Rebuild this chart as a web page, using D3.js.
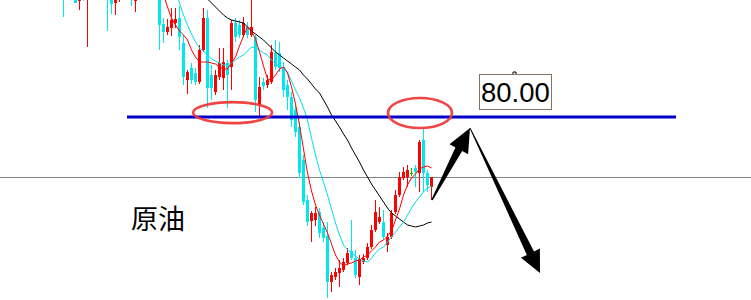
<!DOCTYPE html>
<html lang="zh">
<head>
<meta charset="UTF-8">
<title>原油</title>
<script src="https://d3js.org/d3.v7.min.js"></script>
<style>
  body { margin: 0; padding: 0; background: #fff; }
  svg { display: block; }
  .price-label { font-family: "Liberation Sans", Arial, sans-serif; font-size: 27.5px; fill: #000; }
  .name-label { font-family: "Noto Sans CJK SC", sans-serif; font-size: 27px; fill: #000; }
</style>
</head>
<body>
<svg width="751" height="300"></svg>
<script>
// candle data, one entry per bar (index 0 = leftmost)
const opens = [87.35, 86.35, 86.85, 86.85, 85.80, 86.45, 86.05, 86.75, 87.35, 86.65,
  87.25, 86.55, 86.15, 85.70, 86.25, 86.85, 86.35, 86.95, 85.80, 86.45,
  87.25, 87.85, 87.10, 86.75, 86.35, 84.65, 84.25, 84.45, 84.70, 84.95,
  83.70, 81.85, 82.45, 82.20, 81.75, 83.35, 84.95, 82.10, 81.25, 82.00,
  81.95, 82.70, 82.50, 84.70, 84.60, 84.10, 84.50, 84.10, 84.00, 80.60,
  81.75, 81.60, 81.75, 83.20, 83.20, 82.50, 81.60, 81.00, 80.35, 79.50,
  77.85, 75.85, 74.80, 74.85, 75.25, 74.45, 74.05, 71.75, 72.00, 72.20,
  72.35, 72.70, 73.30, 72.95, 72.00, 72.75, 72.95, 73.50, 74.35, 74.75,
  74.75, 73.60, 74.00, 75.25, 76.10, 76.95, 77.00, 77.20, 77.45, 77.20,
  78.85, 77.20, 76.50];
const highs = [87.85, 87.25, 87.75, 87.10, 86.60, 86.75, 87.15, 87.65, 87.85, 87.55,
  87.50, 86.85, 86.45, 86.55, 87.15, 87.25, 87.35, 87.25, 86.75, 87.60,
  88.25, 88.15, 87.35, 86.95, 86.60, 84.95, 84.90, 85.45, 85.45, 85.55,
  84.10, 82.35, 82.70, 82.45, 83.60, 85.45, 85.35, 82.60, 82.35, 83.45,
  83.45, 82.85, 84.85, 84.95, 84.85, 85.00, 84.75, 86.10, 84.10, 82.00,
  81.95, 82.10, 83.60, 83.85, 83.75, 82.75, 81.85, 81.25, 80.60, 79.75,
  78.10, 76.10, 75.30, 75.50, 75.45, 74.75, 74.75, 72.25, 72.45, 72.85,
  72.95, 73.45, 74.85, 73.35, 73.10, 73.15, 73.70, 74.60, 75.85, 75.50,
  75.35, 74.20, 75.35, 76.35, 77.25, 77.50, 77.60, 77.45, 77.60, 78.85,
  79.45, 77.35, 76.95];
const lows = [85.00, 86.10, 86.65, 85.70, 85.35, 85.80, 83.50, 86.35, 86.25, 86.15,
  86.10, 84.30, 85.15, 85.10, 85.75, 86.05, 86.00, 85.55, 85.25, 86.25,
  86.95, 86.85, 86.25, 85.95, 83.35, 83.70, 84.10, 84.05, 84.45, 83.35,
  81.60, 81.15, 81.65, 81.60, 81.65, 83.25, 80.45, 80.85, 81.10, 81.85,
  81.35, 80.45, 81.35, 83.75, 83.95, 84.00, 83.95, 84.00, 80.25, 80.00,
  81.35, 81.45, 81.65, 82.35, 82.25, 81.00, 80.35, 79.50, 79.00, 76.95,
  75.60, 74.55, 73.75, 74.55, 73.95, 73.75, 70.95, 71.25, 71.85, 71.50,
  72.25, 72.60, 72.85, 71.95, 71.60, 72.65, 72.85, 73.40, 74.25, 74.65,
  73.85, 73.25, 73.90, 75.15, 76.00, 76.85, 76.50, 77.05, 76.50, 76.25,
  76.25, 76.25, 75.85];
const closes = [86.45, 86.95, 87.45, 85.70, 86.35, 86.10, 86.85, 87.35, 86.60, 87.25,
  86.45, 86.05, 85.65, 86.25, 86.85, 86.35, 86.95, 86.25, 86.45, 87.25,
  87.85, 87.10, 86.75, 86.25, 84.60, 84.25, 84.50, 84.85, 84.90, 84.00,
  82.00, 82.25, 81.85, 81.75, 83.35, 84.95, 81.45, 81.45, 82.10, 82.70,
  82.75, 82.10, 84.70, 84.00, 84.10, 84.70, 84.10, 84.50, 80.85, 81.50,
  81.55, 81.85, 83.25, 82.50, 82.45, 81.35, 81.00, 79.85, 79.25, 77.20,
  75.75, 74.75, 75.20, 75.20, 74.20, 73.95, 71.75, 72.10, 72.25, 72.45,
  72.75, 73.20, 72.95, 72.10, 72.90, 72.95, 73.50, 74.35, 75.25, 75.00,
  74.00, 74.00, 75.20, 76.10, 77.00, 77.25, 77.35, 77.20, 77.25, 78.75,
  77.20, 76.60, 77.00];

// moving averages as shown on the chart, each starting at a given bar index
const maFastStart = 24;
const maFast = [86.85, 86.15, 85.50, 84.95, 84.60, 84.30, 84.10, 83.85, 83.35, 83.00,
  82.75, 82.75, 82.75, 82.70, 82.65, 82.50, 82.40, 82.40, 82.70, 83.00,
  83.55, 84.05, 84.50, 84.30, 83.90, 83.25, 82.55, 81.90, 81.85, 82.10,
  82.40, 82.50, 82.20, 81.50, 80.65, 79.60, 78.40, 77.20, 76.30, 75.60,
  75.10, 74.65, 74.20, 73.65, 73.10, 72.75, 72.55, 72.65, 72.70, 72.80,
  72.85, 73.00, 73.10, 73.30, 73.50, 73.75, 73.85, 74.05, 74.30, 74.85,
  75.40, 76.10, 76.60, 76.95, 77.15, 77.40, 77.50, 77.55, 77.45];
const maMidStart = 27;
const maMid = [87.10, 86.35, 85.70, 85.10, 84.60, 84.15, 83.75, 83.45, 83.30, 83.10,
  82.90, 82.80, 82.70, 82.60, 82.60, 82.70, 82.85, 83.00, 83.10, 83.30,
  83.50, 83.45, 83.35, 83.20, 83.10, 82.85, 82.65, 82.55, 82.45, 82.25,
  81.80, 81.35, 80.95, 80.45, 79.85, 78.95, 78.10, 77.35, 76.75, 76.10,
  75.40, 74.70, 74.10, 73.60, 73.35, 73.20, 73.05, 72.90, 72.80, 72.75,
  72.95, 73.20, 73.40, 73.50, 73.75, 74.00, 74.25, 74.50, 74.75, 75.10,
  75.45, 75.75, 76.00, 76.25, 76.45, 76.55];
const maSlowStart = 35;
const maSlow = [86.15, 85.90, 85.70, 85.50, 85.30, 85.10, 84.95, 84.85, 84.80, 84.75,
  84.70, 84.50, 84.30, 84.15, 84.00, 83.85, 83.65, 83.45, 83.25, 83.10,
  82.95, 82.80, 82.65, 82.50, 82.35, 82.10, 81.90, 81.65, 81.40, 81.20,
  80.85, 80.50, 80.10, 79.80, 79.50, 79.15, 78.85, 78.45, 78.10, 77.75,
  77.35, 77.00, 76.65, 76.35, 76.05, 75.75, 75.45, 75.20, 75.05, 74.90,
  74.75, 74.60, 74.55, 74.50, 74.55, 74.60, 74.70, 74.75];

// horizontal levels
const resistanceLevel = 80.00;
const referenceLevel = 77.00;

const svg = d3.select("svg");
const width = +svg.attr("width");
const height = +svg.attr("height");

const x = d3.scaleLinear().domain([-15.75, 172]).range([0, width]);
const y = d3.scaleLinear().domain([85.85, 70.85]).range([0, height]);

const candles = opens.map(function(o, i) {
    return { i: i, open: o, high: highs[i], low: lows[i], close: closes[i] };
});

function candleColor(d) {
    if (d.close > d.open) return "#ff0000";
    if (d.close < d.open) return "#00e8ee";
    return "#00c800";
}

// thin grey level line
svg.append("line")
    .attr("x1", 0)
    .attr("x2", width)
    .attr("y1", y(referenceLevel) + 0.5)
    .attr("y2", y(referenceLevel) + 0.5)
    .attr("stroke", "#7f868c")
    .attr("stroke-width", 1);

const g = svg.append("g").attr("shape-rendering", "crispEdges");

g.selectAll(".wick")
    .data(candles)
    .enter()
    .append("rect")
    .attr("class", "wick")
    .attr("x", function(d) { return x(d.i); })
    .attr("y", function(d) { return y(d.high); })
    .attr("width", 1)
    .attr("height", function(d) { return Math.max(1, y(d.low) - y(d.high)); })
    .attr("fill", candleColor);

g.selectAll(".body")
    .data(candles)
    .enter()
    .append("rect")
    .attr("class", "body")
    .attr("x", function(d) { return x(d.i) - 1; })
    .attr("y", function(d) { return y(Math.max(d.open, d.close)); })
    .attr("width", 3)
    .attr("height", function(d) { return Math.max(1, Math.abs(y(d.open) - y(d.close))); })
    .attr("fill", candleColor);

function maLine(start) {
    return d3.line()
        .x(function(d, k) { return x(start + k) + 0.5; })
        .y(function(d) { return y(d); });
}

svg.append("path")
    .attr("d", maLine(maSlowStart)(maSlow))
    .attr("fill", "none")
    .attr("stroke", "#000")
    .attr("stroke-width", 1);

svg.append("path")
    .attr("d", maLine(maMidStart)(maMid))
    .attr("fill", "none")
    .attr("stroke", "#00e0e8")
    .attr("stroke-width", 1);

svg.append("path")
    .attr("d", maLine(maFastStart)(maFast))
    .attr("fill", "none")
    .attr("stroke", "#ff0000")
    .attr("stroke-width", 1);

// blue resistance line
svg.append("line")
    .attr("x1", x(16))
    .attr("x2", x(153.25))
    .attr("y1", y(resistanceLevel))
    .attr("y2", y(resistanceLevel))
    .attr("stroke", "#0000c8")
    .attr("stroke-width", 3);

// red ellipses marking the touches
const touches = [
    { i: 42.4, price: 80.22, rx: 39.5, ry: 10.5 },
    { i: 89.25, price: 80.2, rx: 32, ry: 15 }
];

svg.selectAll(".touch")
    .data(touches)
    .enter()
    .append("ellipse")
    .attr("class", "touch")
    .attr("cx", function(d) { return x(d.i); })
    .attr("cy", function(d) { return y(d.price); })
    .attr("rx", function(d) { return d.rx; })
    .attr("ry", function(d) { return d.ry; })
    .attr("fill", "none")
    .attr("stroke", "#f03a3a")
    .attr("stroke-opacity", 0.95)
    .attr("stroke-width", 2.6);

// arrows
function arrowPath(a, b, tailHalf, neckHalf, headHalf, headLen) {
    const x0 = x(a.i), y0 = y(a.price), x1 = x(b.i), y1 = y(b.price);
    const dx = x1 - x0, dy = y1 - y0, len = Math.hypot(dx, dy);
    const ux = dx / len, uy = dy / len, px = -uy, py = ux;
    const bx = x1 - ux * headLen, by = y1 - uy * headLen;
    const pts = [
        [x0 + px * tailHalf, y0 + py * tailHalf],
        [bx + px * neckHalf, by + py * neckHalf],
        [bx + px * headHalf, by + py * headHalf],
        [x1, y1],
        [bx - px * headHalf, by - py * headHalf],
        [bx - px * neckHalf, by - py * neckHalf],
        [x0 - px * tailHalf, y0 - py * tailHalf]
    ];
    return d3.line()(pts) + "Z";
}

const upTail = { i: 92.25, price: 75.85 };
const peak = { i: 101.75, price: 79.45 };
const downTip = { i: 119.25, price: 72.2 };

svg.append("path")
    .attr("d", arrowPath(upTail, peak, 0.8, 3.8, 10.5, 24))
    .attr("fill", "#000");

svg.append("path")
    .attr("d", arrowPath(peak, downTip, 0.4, 4, 10.5, 22))
    .attr("fill", "#000");

// price tag
const tag = { i: 104, price: resistanceLevel };

svg.append("path")
    .attr("d", "M" + (x(tag.i) + 34) + "," + (y(tag.price) - 43) + "v-2h3v2")
    .attr("fill", "none")
    .attr("stroke", "#000")
    .attr("stroke-width", 1);

svg.append("rect")
    .attr("x", x(tag.i) + 0.5)
    .attr("y", y(tag.price) - 42.5)
    .attr("width", 72)
    .attr("height", 35)
    .attr("fill", "#fff")
    .attr("stroke", "#857565")
    .attr("stroke-width", 1);

svg.append("text")
    .attr("class", "price-label")
    .attr("x", x(tag.i) + 2)
    .attr("y", y(tag.price) - 15.5)
    .text(d3.format(".2f")(resistanceLevel));

svg.append("text")
    .attr("class", "name-label")
    .attr("x", x(17))
    .attr("y", 229)
    .text("原油");
</script>
</body>
</html>
